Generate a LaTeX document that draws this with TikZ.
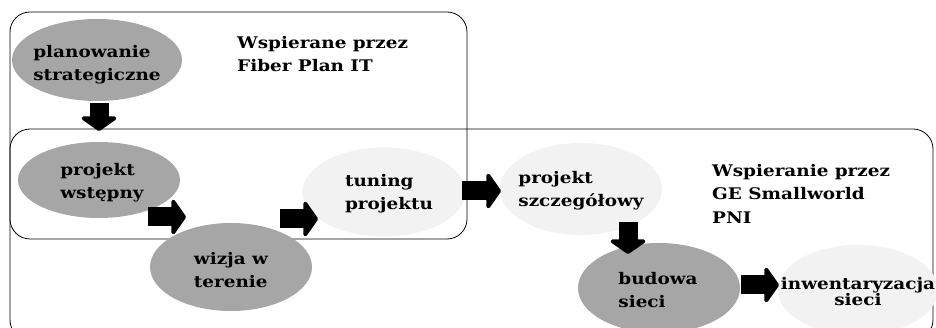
\documentclass[tikz,border=0pt]{standalone}
\usepackage{fontspec}
\setmainfont{DejaVu Serif}[FakeStretch=1.15]
\usetikzlibrary{shapes.geometric,arrows.meta}
\definecolor{darkstep}{RGB}{166,166,166}
\definecolor{lightstep}{RGB}{242,242,242}
\tikzset{
  frame/.style={draw=black, line width=0.8pt, rounded corners=20pt},
  stage/.style={ellipse, inner sep=0pt},
  darkstage/.style={stage, fill=darkstep},
  lightstage/.style={stage, fill=lightstep},
  stagetext/.style={align=left, inner sep=0pt, font=\bfseries\fontsize{16}{23}\selectfont},
  note/.style={align=left, anchor=north west, inner sep=0pt, font=\bfseries\fontsize{16}{23.5}\selectfont},
  blockarrow/.style={line width=19pt, line cap=butt, line join=round, -{Triangle[width=42pt,length=15pt,round]}}
}
\begin{document}
\begin{tikzpicture}[x=1pt,y=-1pt]
\useasboundingbox (0,0) rectangle (936,328);
\fill[white] (0,0) rectangle (936,328);

% support areas
\draw[frame] (10,12) rectangle (467,239);
\draw[frame] (10,129) rectangle (933,340);

% process stages
\node[darkstage, minimum width=170pt, minimum height=82pt] (plan) at (97,60) {};
\node[darkstage, minimum width=162pt, minimum height=76pt] (wst) at (99,180) {};
\node[darkstage, minimum width=162pt, minimum height=88pt] (wiz) at (231,267) {};
\node[lightstage, minimum width=163pt, minimum height=89pt] (tun) at (384,192) {};
\node[lightstage, minimum width=162pt, minimum height=92pt] (szc) at (581,189) {};
\node[darkstage, minimum width=162pt, minimum height=90pt] (bud) at (659,288) {};
\node[lightstage, minimum width=160pt, minimum height=90pt] (inw) at (858,290) {};

% stage names
\node[stagetext] (planT) at ([yshift=-5pt]plan.center) {planowanie\\strategiczne};
\node[stagetext] (wstT) at ([xshift=3pt,yshift=-3pt]wst.center) {projekt\\wstępny};
\node[stagetext] (wizT) at ([yshift=-3pt]wiz.center) {wizja w\\terenie};
\node[stagetext] (tunT) at ([xshift=5pt,yshift=-2pt]tun.center) {tuning\\projektu};
\node[stagetext] (szcT) at ([yshift=-2pt]szc.center) {projekt\\szczegółowy};
\node[stagetext] (budT) at ([xshift=-1pt,yshift=-2pt]bud.center) {budowa\\sieci};
\node[stagetext, align=center, font=\bfseries\fontsize{16}{16}\selectfont] (inwT) at ([yshift=-2pt]inw.center) {inwentaryzacja\\sieci};

% support notes
\node[note] (fp) at (237,36) {Wspierane przez\\Fiber Plan IT};
\node[note] (ge) at (712,164) {Wspieranie przez\\GE Smallworld\\PNI};

% flow arrows
\coordinate (a1s) at (99,103);  \coordinate (a1e) at (99,131);
\coordinate (a2s) at (148,217); \coordinate (a2e) at (186,217);
\coordinate (a3s) at (280,219); \coordinate (a3e) at (318,219);
\coordinate (a4s) at (462,191); \coordinate (a4e) at (501,191);
\coordinate (a5s) at (628,222); \coordinate (a5e) at (628,254);
\coordinate (a6s) at (741,285); \coordinate (a6e) at (779,285);
\draw[blockarrow] (a1s) -- (a1e);
\draw[blockarrow] (a2s) -- (a2e);
\draw[blockarrow] (a3s) -- (a3e);
\draw[blockarrow] (a4s) -- (a4e);
\draw[blockarrow] (a5s) -- (a5e);
\draw[blockarrow] (a6s) -- (a6e);
\end{tikzpicture}
\end{document}
